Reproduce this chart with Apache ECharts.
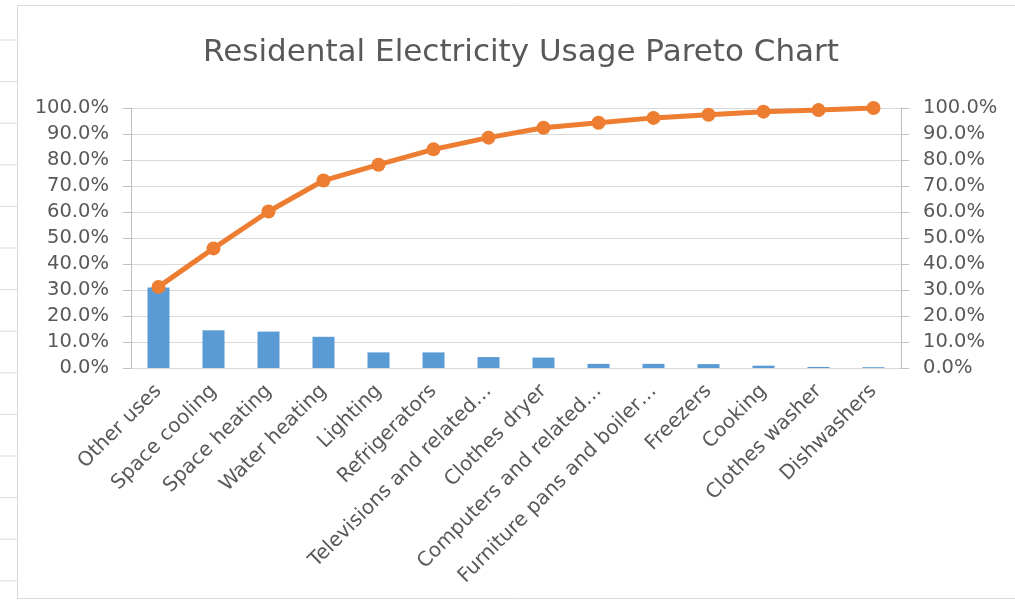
<!DOCTYPE html>
<html>
<head>
<meta charset="utf-8">
<script src="https://cdn.jsdelivr.net/npm/echarts@6/dist/echarts.min.js"></script>
<style>
html,body{margin:0;padding:0;background:#fff;}
#chart{width:1015px;height:604px;}
</style>
</head>
<body>
<div id="chart"></div>
<script>
const categories = ["Other uses","Space cooling","Space heating","Water heating","Lighting","Refrigerators","Televisions and related…","Clothes dryer","Computers and related…","Furniture pans and boiler…","Freezers","Cooking","Clothes washer","Dishwashers"];
const usagePct = [31.0, 14.5, 14.0, 12.0, 6.0, 6.0, 4.2, 4.0, 1.6, 1.6, 1.5, 0.9, 0.4, 0.3];
const cumulativePct = [31.2, 46.0, 60.2, 72.1, 78.2, 84.1, 88.6, 92.4, 94.3, 96.2, 97.4, 98.6, 99.2, 100.0];
const percentTicks = [0,10,20,30,40,50,60,70,80,90,100];
const titleText = "Residental Electricity Usage Pareto Chart";

const chart = echarts.init(document.getElementById('chart'), null, {renderer:'canvas'});
const txt = '#595959';
const labelFont = 'DejaVu Sans';
const rowTicks = [];
for (let i = 0; i < 14; i++) {
  const y = 40 + i * 41.6;
  rowTicks.push({type:'line', shape:{x1:0,y1:y,x2:17,y2:y}, style:{stroke:'#d9d9d9', lineWidth:1}, silent:true});
}
const option = {
  backgroundColor:'#fff',
  animation:false,
  title:{
    text:titleText, left:516, top:32, textAlign:'center',
    textStyle:{fontFamily:'DejaVu Sans', fontSize:31, fontWeight:'normal', color:txt}
  },
  graphic:[
    {type:'rect', shape:{x:17.5,y:5.5,width:1010,height:593}, style:{fill:'none', stroke:'#d9d9d9', lineWidth:1}, silent:true, z:-1},
    ...rowTicks
  ],
  grid:{left:131, right:114, top:108, bottom:236, containLabel:false},
  xAxis:{
    type:'category', data:categories,
    axisLine:{show:true, lineStyle:{color:'#d9d9d9', width:1}},
    axisTick:{show:false},
    axisLabel:{rotate:45, interval:0, margin:20, color:txt, fontFamily:labelFont, fontSize:20}
  },
  yAxis:[
    {type:'value', min:0, max:100, interval:10, position:'left',
     axisLine:{show:true, lineStyle:{color:'#bfbfbf'}},
     axisTick:{show:true, length:8, lineStyle:{color:'#bfbfbf'}},
     splitLine:{show:true, lineStyle:{color:'#d9d9d9', width:1}},
     axisLabel:{margin:22, color:txt, fontFamily:labelFont, fontSize:19.5,
       formatter:v => percentTicks.includes(v) ? v.toFixed(1)+'%' : ''}},
    {type:'value', min:0, max:100, interval:10, position:'right',
     axisLine:{show:true, lineStyle:{color:'#bfbfbf'}},
     axisTick:{show:true, length:8, lineStyle:{color:'#bfbfbf'}},
     splitLine:{show:false},
     axisLabel:{margin:22, color:txt, fontFamily:labelFont, fontSize:19.5,
       formatter:v => percentTicks.includes(v) ? v.toFixed(1)+'%' : ''}}
  ],
  series:[
    {type:'bar', data:usagePct, yAxisIndex:0, barWidth:22, itemStyle:{color:'#5b9bd5'}},
    {type:'line', data:cumulativePct, yAxisIndex:1, symbol:'circle', symbolSize:14,
     lineStyle:{color:'#ed7d31', width:5}, itemStyle:{color:'#ed7d31'}, z:5}
  ]
};
chart.setOption(option);
</script>
</body>
</html>
